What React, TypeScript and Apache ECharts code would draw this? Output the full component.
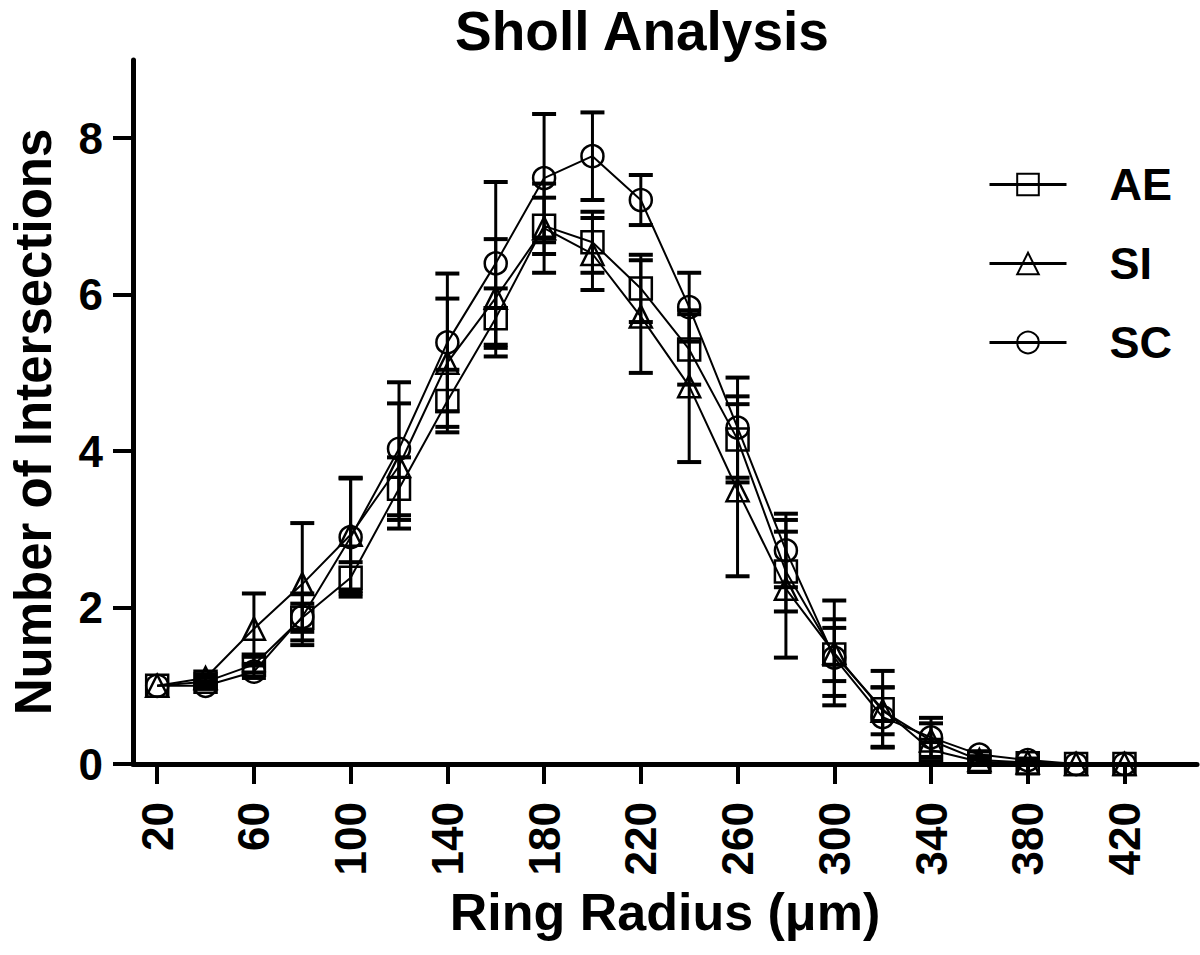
import React, { useEffect, useRef } from "react";
import * as echarts from "echarts";

const radii = [20, 40, 60, 80, 100, 120, 140, 160, 180, 200, 220, 240, 260, 280, 300, 320, 340, 360, 380, 400, 420];

const aeMean = [1.0, 1.05, 1.27, 1.87, 2.38, 3.52, 4.64, 5.7, 6.88, 6.67, 6.08, 5.3, 4.15, 2.46, 1.4, 0.7, 0.18, 0.03, 0.01, 0, 0];
const aeSem = [0, 0.05, 0.1, 0.18, 0.2, 0.4, 0.4, 0.38, 0.36, 0.39, 0.43, 0.45, 0.55, 0.51, 0.34, 0.49, 0.1, 0.03, 0.01, 0, 0];

const siMean = [1.0, 1.1, 1.73, 2.3, 2.93, 3.81, 5.13, 5.96, 6.85, 6.52, 5.72, 4.83, 3.5, 2.24, 1.42, 0.68, 0.3, 0.05, 0.02, 0, 0];
const siSem = [0, 0.05, 0.45, 0.78, 0.72, 0.8, 0.82, 0.75, 0.57, 0.46, 0.72, 0.97, 1.1, 0.88, 0.67, 0.3, 0.22, 0.05, 0.02, 0, 0];

const scMean = [1.0, 1.0, 1.18, 1.88, 2.9, 4.03, 5.39, 6.4, 7.49, 7.77, 7.21, 5.84, 4.3, 2.73, 1.36, 0.6, 0.34, 0.12, 0.05, 0, 0];
const scSem = [0, 0.04, 0.08, 0.3, 0.76, 0.85, 0.88, 1.04, 0.82, 0.56, 0.32, 0.44, 0.64, 0.47, 0.49, 0.38, 0.25, 0.04, 0.02, 0, 0];

const seriesNames = ["AE", "SI", "SC"];
const xTickValues = [20, 60, 100, 140, 180, 220, 260, 300, 340, 380, 420];
const yTickValues = [0, 2, 4, 6, 8];

const FONT = "'Liberation Sans', Arial, Helvetica, sans-serif";

function errData(means: number[], sems: number[]) {
  return radii.map((r, i) => [r, means[i] - sems[i], means[i] + sems[i]]);
}

function renderErr(params: any, api: any) {
  const x = api.value(0);
  const lo = api.value(1);
  const hi = api.value(2);
  if (hi - lo < 1e-9) return { type: "group", children: [] };
  const top = api.coord([x, hi]);
  const bot = api.coord([x, lo]);
  const cw = 12;
  return {
    type: "group",
    children: [
      { type: "line", shape: { x1: top[0], y1: top[1], x2: bot[0], y2: bot[1] }, style: { stroke: "#000", lineWidth: 3 } },
      { type: "line", shape: { x1: top[0] - cw, y1: top[1], x2: top[0] + cw, y2: top[1] }, style: { stroke: "#000", lineWidth: 4 } },
      { type: "line", shape: { x1: bot[0] - cw, y1: bot[1], x2: bot[0] + cw, y2: bot[1] }, style: { stroke: "#000", lineWidth: 4 } },
    ],
  };
}

function lineSeries(name: string, means: number[], symbol: string) {
  return {
    name,
    type: "line",
    data: radii.map((r, i) => [r, means[i]]),
    symbol,
    symbolSize: 22,
    showAllSymbol: true,
    z: 3,
    lineStyle: { color: "#000", width: 2 },
    itemStyle: { color: "rgba(255,255,255,0)", borderColor: "#000", borderWidth: 2.5 },
    emphasis: { disabled: true },
  };
}

function errSeries(name: string, means: number[], sems: number[]) {
  return {
    name: name + " SEM",
    type: "custom",
    renderItem: renderErr,
    data: errData(means, sems),
    encode: { x: 0, y: [1, 2] },
    z: 2,
    silent: true,
  };
}

export default function App() {
  const ref = useRef<HTMLDivElement>(null);
  useEffect(() => {
    if (!ref.current) return;
    const chart = echarts.init(ref.current, null, { renderer: "svg" });
    chart.setOption({
      animation: false,
      backgroundColor: "#fff",
      title: {
        text: "Sholl Analysis",
        left: 455,
        top: 3,
        padding: 0,
        textStyle: { fontSize: 55, fontWeight: "bold", fontFamily: FONT, color: "#000", lineHeight: 56 },
      },
      legend: {
        data: seriesNames,
        orient: "vertical",
        left: 988,
        top: 162,
        padding: 0,
        itemWidth: 77,
        itemHeight: 27,
        itemGap: 34,
        lineStyle: { width: 3 },
        textStyle: { fontSize: 45, fontWeight: "bold", fontFamily: FONT, color: "#000", padding: [0, 0, 0, 38] },
      },
      grid: { left: 130, right: 3, top: 60, bottom: 191, containLabel: false },
      xAxis: {
        type: "value",
        min: 10,
        max: 450,
        name: "Ring Radius (μm)",
        nameLocation: "middle",
        nameGap: 122,
        nameTextStyle: { fontSize: 52, fontWeight: "bold", fontFamily: FONT, color: "#000" },
        axisLine: { show: true, onZero: false, lineStyle: { color: "#000", width: 5 } },
        axisTick: { show: true, length: 20, customValues: xTickValues, lineStyle: { color: "#000", width: 4 } },
        axisLabel: {
          customValues: xTickValues,
          rotate: 90,
          margin: 38,
          fontSize: 44,
          fontWeight: "bold",
          fontFamily: FONT,
          color: "#000",
        },
        splitLine: { show: false },
      },
      yAxis: {
        type: "value",
        min: 0,
        max: 9,
        name: "Number of Intersections",
        nameLocation: "middle",
        nameGap: 74,
        nameTextStyle: { fontSize: 51, fontWeight: "bold", fontFamily: FONT, color: "#000", padding: [0, 20, 0, 0] },
        axisLine: { show: true, onZero: false, lineStyle: { color: "#000", width: 5 } },
        axisTick: { show: true, length: 20, customValues: yTickValues, lineStyle: { color: "#000", width: 4 } },
        axisLabel: {
          customValues: yTickValues,
          margin: 30,
          fontSize: 44,
          fontWeight: "bold",
          fontFamily: FONT,
          color: "#000",
        },
        splitLine: { show: false },
      },
      series: [
        errSeries("AE", aeMean, aeSem),
        errSeries("SI", siMean, siSem),
        errSeries("SC", scMean, scSem),
        lineSeries("AE", aeMean, "rect"),
        lineSeries("SI", siMean, "triangle"),
        lineSeries("SC", scMean, "circle"),
      ],
    });
    return () => chart.dispose();
  }, []);
  return <div ref={ref} style={{ position: "absolute", left: 0, top: 0, width: 1200, height: 955 }} />;
}
